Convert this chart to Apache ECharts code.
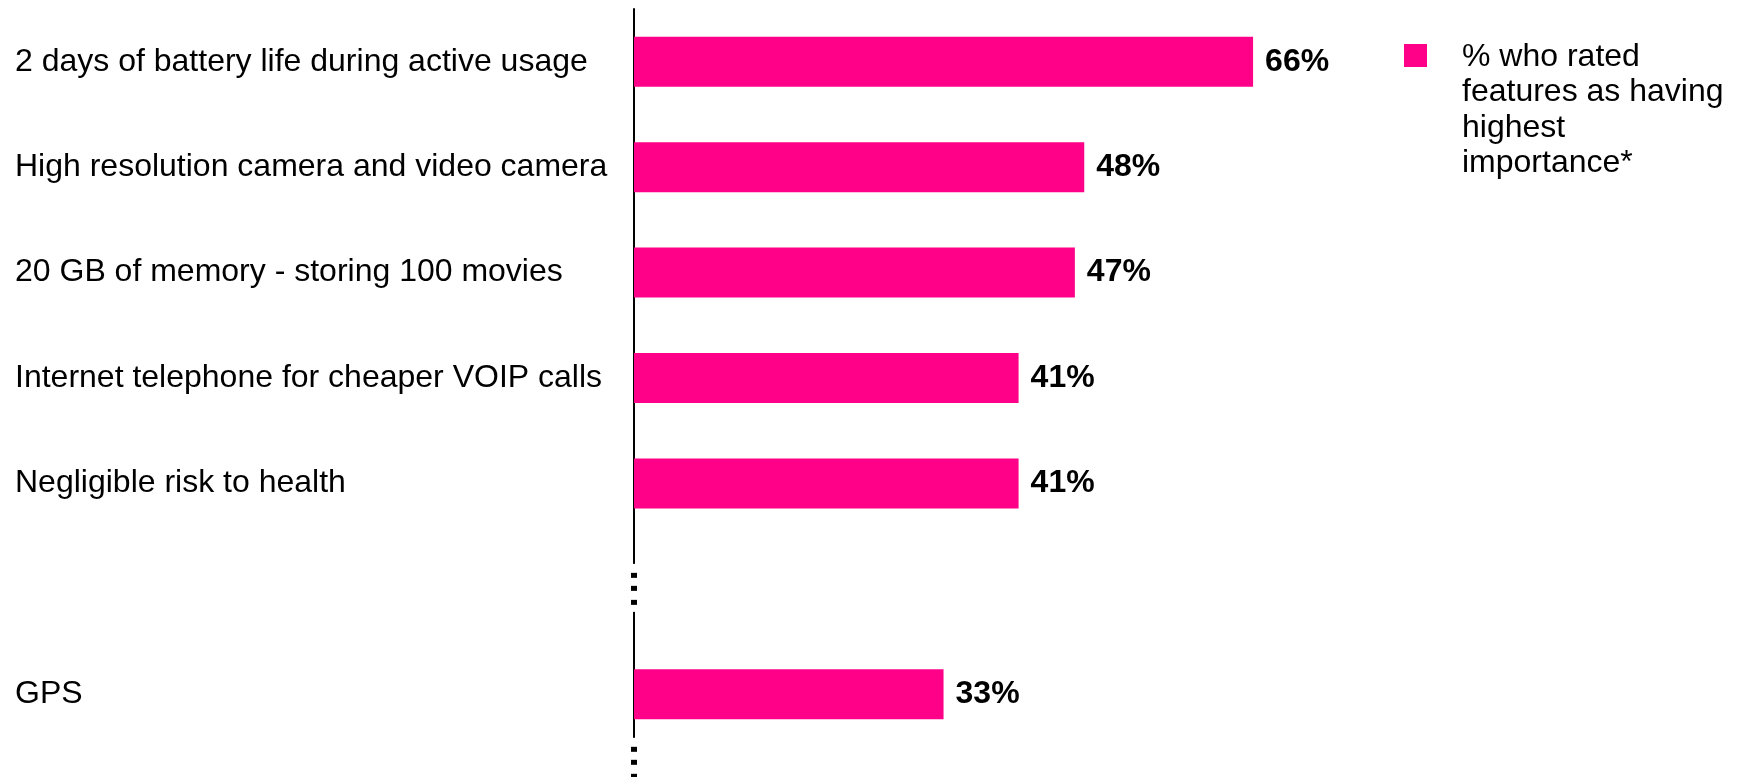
<!DOCTYPE html>
<html>
<head>
<meta charset="utf-8">
<script src="https://cdn.jsdelivr.net/npm/echarts@6/dist/echarts.min.js"></script>
<style>
  html, body { margin: 0; padding: 0; background: #fff; }
  #chart { width: 1743px; height: 777px; }
</style>
</head>
<body>
<div id="chart"></div>
<script>
// ---- data ----
const categories = [
  '2 days of battery life during active usage',
  'High resolution camera and video camera',
  '20 GB of memory - storing 100 movies',
  'Internet telephone for cheaper VOIP calls',
  'Negligible risk to health',
  '',
  'GPS'
];
const values = [66, 48, 47, 41, 41, null, 33];
const seriesName = '% who rated features as having highest importance*';
const legendLines = ['% who rated', 'features as having', 'highest', 'importance*'];
// axis breaks (in category-index units, where "..." interrupts the axis)
const axisBreaks = [5, 6.65];

const FONT = '"Liberation Sans", Arial, sans-serif';
const PINK = '#FF0088';

const chart = echarts.init(document.getElementById('chart'), null, { renderer: 'canvas' });
chart.setOption({
  animation: false,
  backgroundColor: '#ffffff',
  grid: { left: 634, top: 9, width: 938, height: 738 },
  legend: {
    data: [seriesName],
    left: 1404,
    top: -17.5,
    padding: 0,
    icon: 'rect',
    itemWidth: 23,
    itemHeight: 23,
    selectedMode: false,
    formatter: () => '{s| }\n' + legendLines.map(l => '{t|' + l + '}').join('\n'),
    textStyle: {
      fontFamily: FONT,
      fontSize: 32,
      color: '#000',
      rich: {
        s: { fontSize: 4, lineHeight: 109, padding: [0, 0, 0, 30] },
        t: { fontFamily: FONT, fontSize: 32, lineHeight: 35.5, color: '#000', padding: [0, 0, 0, 30] }
      }
    }
  },
  xAxis: {
    type: 'value',
    min: 0,
    max: 100,
    show: false
  },
  yAxis: {
    type: 'category',
    inverse: true,
    data: categories,
    axisLine: { show: true, lineStyle: { color: '#000', width: 2 } },
    axisTick: { show: false },
    splitLine: { show: false },
    axisLabel: {
      align: 'left',
      margin: 619,
      fontFamily: FONT,
      fontSize: 32,
      color: '#000'
    }
  },
  series: [
    {
      name: seriesName,
      type: 'bar',
      data: values,
      barWidth: 50,
      itemStyle: { color: PINK },
      label: {
        show: true,
        position: 'right',
        distance: 12,
        formatter: '{c}%',
        fontFamily: FONT,
        fontSize: 32,
        fontWeight: 'bold',
        color: '#000'
      }
    },
    {
      name: 'axisBreaks',
      type: 'custom',
      silent: true,
      clip: false,
      z: 5,
      data: axisBreaks.map(b => [0, Math.floor(b), b - Math.floor(b)]),
      encode: { x: 0, y: 1 },
      renderItem: function (params, api) {
        const p = api.coord([0, api.value(1)]);
        const band = api.size([0, 1])[1];
        const x = p[0], y = p[1] + api.value(2) * band;
        return {
          type: 'group',
          children: [
            { type: 'rect', shape: { x: x - 5, y: y - 25, width: 10, height: 48 }, style: { fill: '#fff' } },
            { type: 'rect', shape: { x: x - 3, y: y - 16, width: 6, height: 5 }, style: { fill: '#000' } },
            { type: 'rect', shape: { x: x - 3, y: y - 3, width: 6, height: 5 }, style: { fill: '#000' } },
            { type: 'rect', shape: { x: x - 3, y: y + 11, width: 6, height: 5 }, style: { fill: '#000' } }
          ]
        };
      }
    }
  ]
});
</script>
</body>
</html>
